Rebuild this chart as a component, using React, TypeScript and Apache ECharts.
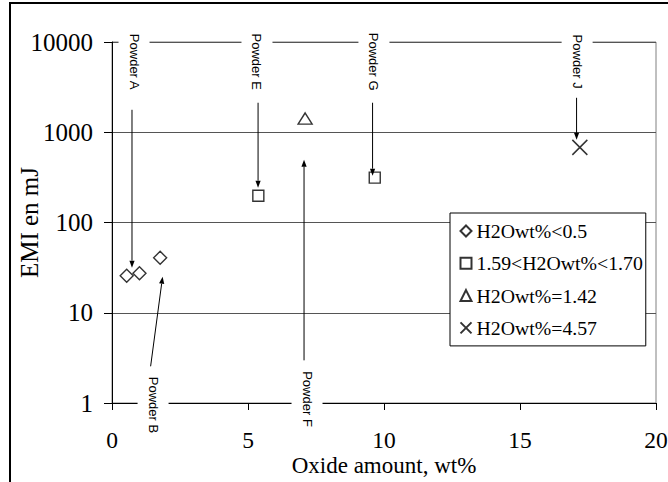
import React, { useEffect, useRef } from "react";
import * as echarts from "echarts";

// Oxide amount (wt%) and EMI (mJ) per water-content group
const seriesNames = ["H2Owt%<0.5", "1.59<H2Owt%<1.70", "H2Owt%=1.42", "H2Owt%=4.57"];
const dryOxide = [0.54, 1.01, 1.77];
const dryEmi = [25.7, 27.4, 40.6];
const midOxide = [5.38, 9.66];
const midEmi = [198, 314];
const triOxide = [7.1];
const triEmi = [1420];
const wetOxide = [17.2];
const wetEmi = [680];

const xTicks = [0, 5, 10, 15, 20];
const yDecades = [1, 10, 100, 1000, 10000];

// Powder callouts: label centre and arrow (tail -> head), all in data units
const powderLabels = ["Powder A", "Powder E", "Powder G", "Powder J", "Powder B", "Powder F"];
const labelOxide = [0.81, 5.33, 9.63, 17.1, 1.51, 7.17];
const labelEmi = [6050, 6050, 6050, 6050, 0.95, 1.107];
const arrowFromOxide = [0.735, 5.37, 9.58, 17.08, 1.42, 7.06];
const arrowFromEmi = [1774, 2123, 2123, 2409, 2.55, 2.97];
const arrowToOxide = [0.735, 5.37, 9.58, 17.08, 1.86, 7.06];
const arrowToEmi = [31.6, 243, 330, 824, 25.1, 497];

const SERIF = "Liberation Serif, Times New Roman, serif";
const SANS = "Liberation Sans, Arial, sans-serif";

const zip = (a: number[], b: number[]) => a.map((v, i) => [v, b[i]]);

const markerStyle = { color: "#fff", borderColor: "#000", borderWidth: 1.4 };

export default function App() {
  const ref = useRef<HTMLDivElement>(null);

  useEffect(() => {
    if (!ref.current) return;
    const chart = echarts.init(ref.current, null, { renderer: "svg" });
    chart.setOption({
      animation: false,
      backgroundColor: "#fff",
      grid: {
        left: 112,
        top: 42,
        width: 544,
        height: 361,
        containLabel: false,
        outerBoundsMode: "none",
        show: true,
        borderColor: "#808080",
        borderWidth: 1,
        backgroundColor: "transparent",
      },
      xAxis: {
        type: "value",
        min: 0,
        max: 20,
        interval: 5,
        name: "Oxide amount, wt%",
        nameLocation: "middle",
        nameGap: 52,
        nameMoveOverlap: false,
        nameTextStyle: { fontFamily: SERIF, fontSize: 23, lineHeight: 20, color: "#000" },
        axisLine: { show: true, lineStyle: { color: "#000", width: 1 } },
        axisTick: { show: true, length: 7, lineStyle: { color: "#000" } },
        axisLabel: {
          margin: 28,
          fontFamily: SERIF,
          fontSize: 23.5,
          lineHeight: 18,
          color: "#000",
          formatter: (v: number) => (xTicks.includes(v) ? String(v) : ""),
        },
        splitLine: { show: false },
      },
      yAxis: {
        type: "log",
        logBase: 10,
        min: yDecades[0],
        max: yDecades[yDecades.length - 1],
        name: "EMI en mJ",
        nameLocation: "middle",
        nameGap: 70,
        nameMoveOverlap: false,
        nameTextStyle: { fontFamily: SERIF, fontSize: 25, color: "#000" },
        axisLine: { show: true, lineStyle: { color: "#000", width: 1 } },
        axisTick: { show: true, length: 8, lineStyle: { color: "#000" } },
        minorTick: { show: false },
        axisLabel: {
          margin: 19,
          fontFamily: SERIF,
          fontSize: 25,
          color: "#000",
          formatter: (v: number) => String(Math.round(v)),
        },
        splitLine: { show: true, lineStyle: { color: "#555", width: 1 } },
      },
      legend: {
        orient: "vertical",
        left: 450,
        top: 213,
        itemWidth: 11,
        itemHeight: 11,
        itemGap: 12.3,
        padding: [8, 3, 8, 8],
        backgroundColor: "#fff",
        borderColor: "#000",
        borderWidth: 1,
        borderRadius: 0,
        selectedMode: false,
        data: seriesNames,
        textStyle: { fontFamily: SERIF, fontSize: 19.8, lineHeight: 20, color: "#000" },
      },
      series: [
        {
          name: seriesNames[0],
          type: "scatter",
          symbol: "diamond",
          symbolSize: 13,
          itemStyle: markerStyle,
          data: zip(dryOxide, dryEmi),
        },
        {
          name: seriesNames[1],
          type: "scatter",
          symbol: "rect",
          symbolSize: 11,
          itemStyle: markerStyle,
          data: zip(midOxide, midEmi),
        },
        {
          name: seriesNames[2],
          type: "scatter",
          symbol: "triangle",
          symbolSize: [14, 11],
          itemStyle: markerStyle,
          data: zip(triOxide, triEmi),
        },
        {
          name: seriesNames[3],
          type: "scatter",
          symbol: "path://M0,0L10,10M10,0L0,10",
          symbolSize: 15,
          itemStyle: { color: "none", borderColor: "#000", borderWidth: 1.5 },
          data: zip(wetOxide, wetEmi),
        },
      ],
    });

    const toPx = (x: number, y: number) =>
      chart.convertToPixel({ gridIndex: 0 }, [x, y]) as number[];

    const elements: any[] = [
      // outer frame
      {
        type: "rect",
        shape: { x: 10, y: 3, width: 700, height: 600 },
        style: { fill: "none", stroke: "#000", lineWidth: 2 },
        z: 100,
        silent: true,
      },
    ];

    powderLabels.forEach((label, i) => {
      const [lx, ly] = toPx(labelOxide[i], labelEmi[i]);
      elements.push({
        type: "text",
        x: lx,
        y: ly,
        rotation: -Math.PI / 2,
        z: 100,
        silent: true,
        style: {
          text: label,
          font: `13px ${SANS}`,
          fill: "#000",
          align: "center",
          verticalAlign: "middle",
          backgroundColor: "#fff",
          padding: [9, 4],
        },
      });
      const [x1, y1] = toPx(arrowFromOxide[i], arrowFromEmi[i]);
      const [x2, y2] = toPx(arrowToOxide[i], arrowToEmi[i]);
      const len = Math.hypot(x2 - x1, y2 - y1);
      const ux = (x2 - x1) / len;
      const uy = (y2 - y1) / len;
      const headLen = 7;
      const headHalf = 2.6;
      const bx = x2 - ux * headLen;
      const by = y2 - uy * headLen;
      elements.push({
        type: "line",
        z: 101,
        silent: true,
        shape: { x1, y1, x2: bx, y2: by },
        style: { stroke: "#000", lineWidth: 1 },
      });
      elements.push({
        type: "polygon",
        z: 101,
        silent: true,
        shape: {
          points: [
            [x2, y2],
            [bx - uy * headHalf, by + ux * headHalf],
            [bx + uy * headHalf, by - ux * headHalf],
          ],
        },
        style: { fill: "#000" },
      });
    });

    chart.setOption({ graphic: { elements } });

    return () => chart.dispose();
  }, []);

  return (
    <div
      ref={ref}
      style={{ position: "fixed", left: 0, top: 0, width: 668, height: 482, background: "#fff" }}
    />
  );
}
